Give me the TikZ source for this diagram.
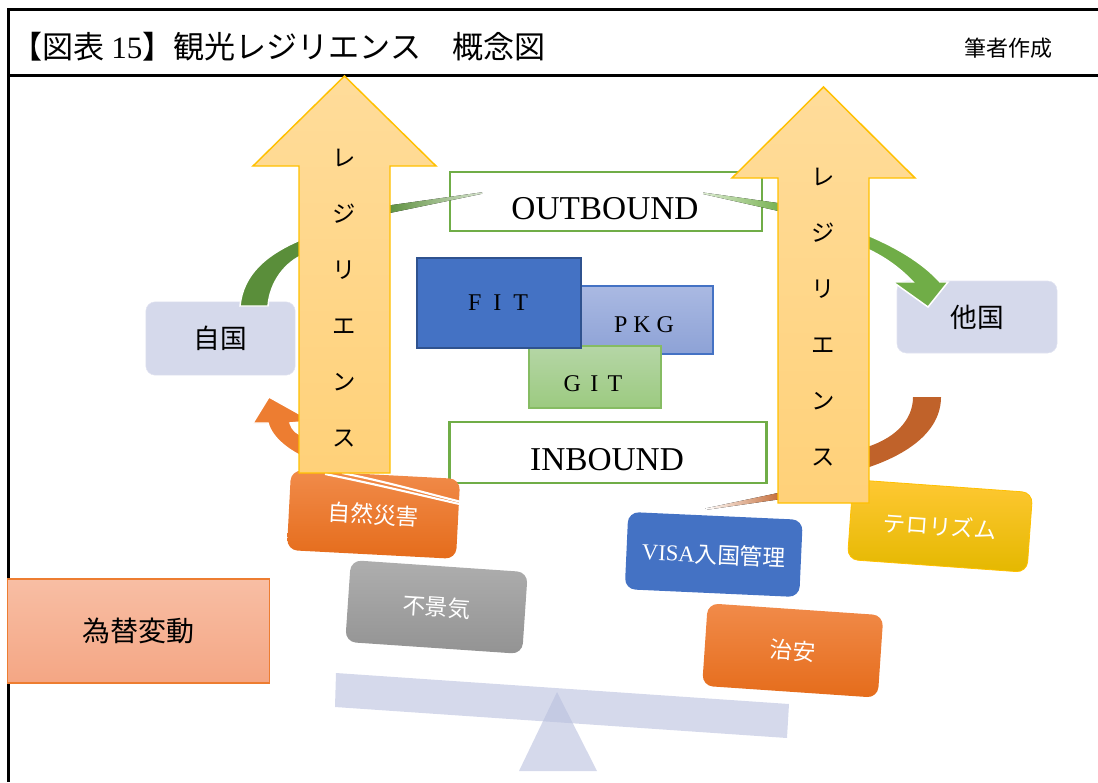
\documentclass[tikz,border=0pt]{standalone}
\usepackage{fontspec}
\setmainfont{Liberation Serif}
\newfontfamily\jp{Noto Sans CJK JP}
\newcommand\fsz[1]{\fontsize{#1}{#1}\selectfont}
\definecolor{lav}{HTML}{D5D9EB}
\definecolor{lavt}{HTML}{B9C0DE}
\definecolor{arrowtop}{HTML}{FFDC9A}
\definecolor{arrowbot}{HTML}{FFD179}
\definecolor{arrowline}{HTML}{FFC000}
\definecolor{gdark}{HTML}{5A8E3A}
\definecolor{glight}{HTML}{70AD47}
\definecolor{arcbrown}{HTML}{C0622A}
\definecolor{oran}{HTML}{ED7D31}
\definecolor{blu}{HTML}{4472C4}
\definecolor{bludark}{HTML}{2F528F}
\definecolor{pkgtop}{HTML}{AAB9E2}
\definecolor{pkgbot}{HTML}{8DA2D6}
\definecolor{gittop}{HTML}{B5D6A6}
\definecolor{gitbot}{HTML}{9CCA80}
\definecolor{gitline}{HTML}{86BC63}
\definecolor{otop}{HTML}{F18B4A}
\definecolor{obot}{HTML}{E56C1B}
\definecolor{gtop}{HTML}{AEAEAE}
\definecolor{gbot}{HTML}{939393}
\definecolor{ytop}{HTML}{FFC833}
\definecolor{ybot}{HTML}{E4B800}
\definecolor{ktop}{HTML}{F8BEA4}
\definecolor{kbot}{HTML}{F4A684}
\tikzset{
  frameline/.style={line width=2.25pt, black},
  country/.style={rectangle, rounded corners=7pt, fill=lav, draw=lav!70!white, inner sep=0pt, font=\jp\fsz{20pt}},
  boundbox/.style={rectangle, draw=glight, line width=1.9pt, fill=white, inner sep=0pt},
  boundtext/.style={font=\fsz{25pt}, inner sep=0pt},
  typebox/.style={rectangle, inner sep=0pt, font=\fsz{18pt}},
  lowbox/.style={rectangle, rounded corners=8pt, inner sep=0pt, text=white, font=\jp\fsz{17pt}},
  bigarrow/.style={top color=arrowtop, bottom color=arrowbot, draw=arrowline, line width=1.1pt},
  arrowtext/.style={font=\jp\fontsize{17.5pt}{42pt}\selectfont, align=center, inner sep=0pt},
  arcband/.style={draw=white, line width=1.1pt},
  cutline/.style={white, line width=1.6pt}
}
\begin{document}
\begin{tikzpicture}[x=0.75pt,y=-0.75pt]
\useasboundingbox (0,0) rectangle (1098,782);
% frame
\draw[frameline] (7,9) -- (1098,9);
\draw[frameline] (7,75) -- (1098,75);
\draw[frameline] (8,8) -- (8,782);
% seesaw
\fill[lavt, fill opacity=0.6] (557,692) -- (597,771) -- (519,771) -- cycle;
\fill[lavt, fill opacity=0.6] (336,673) -- (789,704) -- (787,738) -- (335,707) -- cycle;
% exchange rate
\node[rectangle, top color=ktop, bottom color=kbot, draw=oran, line width=0.9pt, minimum width=197pt, minimum height=78pt, inner sep=0pt, font=\jp\fsz{21pt}] (kawase) at (138.5,631) {為替変動};
% countries
\node[country, minimum width=112pt, minimum height=55pt] (jikoku) at (220.5,338.5) {自国};
\node[country, minimum width=120pt, minimum height=54pt] (takoku) at (977,317) {他国};
% outbound / inbound
\node[boundbox, minimum width=234pt, minimum height=44pt] (outb) at (606,201.5) {};
\node[boundtext] (outt) at (605,209) {OUTBOUND};
\node[boundbox, minimum width=238pt, minimum height=45.5pt] (inb) at (608,452.5) {};
\node[boundtext] (intt) at (607,460) {INBOUND};
% travel types
\node[typebox, top color=pkgtop, bottom color=pkgbot, draw=blu, line width=1pt, minimum width=99.75pt, minimum height=51pt] (pkg) at (646.5,320) {};
\node[typebox] (pkgt) at (644,325) {P K G};
\node[typebox, top color=gittop, bottom color=gitbot, draw=gitline, line width=1pt, minimum width=99pt, minimum height=46.5pt] (git) at (595,377) {};
\node[typebox] (gitt) at (593,384) {G\hspace{7pt}I\hspace{7pt}T};
\node[typebox, fill=blu, draw=bludark, line width=1.5pt, minimum width=123pt, minimum height=67.5pt] (fit) at (499,303) {};
\node[typebox] (fitt) at (498,303) {F\hspace{9pt}I\hspace{9pt}T};
% risk boxes
\node[lowbox, top color=otop, bottom color=obot, minimum width=127pt, minimum height=60pt, rotate=-3] (saigai) at (373.5,514.5) {自然災害};
\node[lowbox, top color=gtop, bottom color=gbot, minimum width=133pt, minimum height=61.5pt, rotate=-3.9] (fukeiki) at (436.5,607) {不景気};
\node[lowbox, fill=blu, minimum width=131pt, minimum height=58pt, rotate=-2.6] (visa) at (713.75,554.5) {{\rmfamily VISA}入国管理};
\node[lowbox, top color=ytop, bottom color=ybot, draw=arrowline, line width=0.6pt, minimum width=135pt, minimum height=60pt, rotate=-4.1] (terro) at (940,526) {テロリズム};
\node[lowbox, top color=otop, bottom color=obot, minimum width=132pt, minimum height=62pt, rotate=-3.9] (chian) at (792.75,650.5) {治安};
% green arc (outbound)
\path[arcband, fill=gdark] (240,306) .. controls (243,275) and (265,254) .. (305,238) -- (305,254) .. controls (285,262) and (270,282) .. (268,306) -- cycle;
\fill[left color=gdark, right color=gdark!25!white] (385,206) -- (482,192.3) -- (482,193.8) -- (385,214) -- cycle;
\fill[left color=glight!25!white, right color=glight] (703,192.5) -- (785,204) -- (785,212.5) -- (703,194) -- cycle;
\path[arcband, fill=glight] (860,232) .. controls (895,246) and (922,262) .. (940,282) -- (948,282) -- (928,307) -- (893,282) -- (913,282) .. controls (898,266) and (880,254) .. (860,246) -- cycle;
% orange arc (inbound)
\path[fill=arcbrown] (941,397) .. controls (941,430) and (910,455) .. (860,470) -- (860,449) .. controls (895,440) and (913,420) .. (913,397) -- cycle;
\fill[left color=white, right color=arcbrown] (705,508.5) -- (785,491.5) -- (785,498.5) -- (705,510) -- cycle;
\path[arcband, fill=oran] (253,423) -- (269,397) -- (312,421) -- (290,423) .. controls (292,430) and (297,434) .. (305,437) -- (305,458) .. controls (288,450) and (272,438) .. (268,423) -- cycle;
\draw[cutline] (325,474) .. controls (385,486) and (440,500) .. (495,512);
\draw[cutline] (342,473) .. controls (398,484) and (445,499) .. (495,510);
% resilience arrows
\path[bigarrow] (344.5,76) -- (436,166) -- (390,166) -- (390,473) -- (299,473) -- (299,166) -- (253,166) -- cycle;
\node[arrowtext] (resl) at (344.5,298) {レ\\ジ\\リ\\エ\\ン\\ス};
\path[bigarrow] (823.5,87) -- (915,178) -- (869,178) -- (869,503) -- (778,503) -- (778,178) -- (732,178) -- cycle;
\node[arrowtext] (resr) at (823.5,317) {レ\\ジ\\リ\\エ\\ン\\ス};
% header
\node[anchor=west, inner sep=0pt, font=\jp\fsz{23.3pt}] (title) at (11,47) {【図表 {\rmfamily 15}】観光レジリエンス　概念図};
\node[inner sep=0pt, font=\jp\fsz{16.5pt}] (author) at (1008,48) {筆者作成};
\end{tikzpicture}
\end{document}
